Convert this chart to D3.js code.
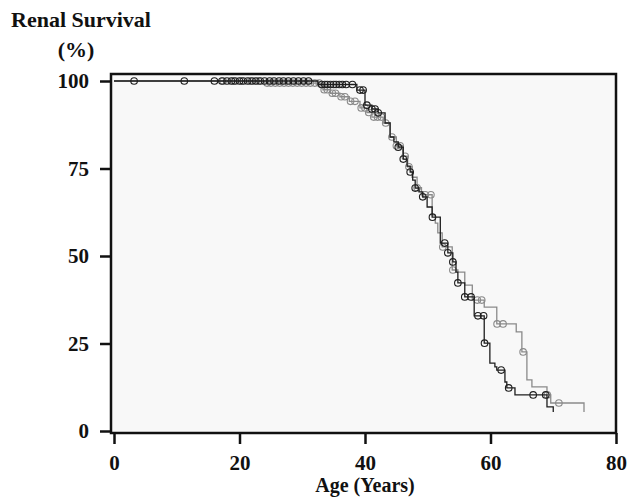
<!DOCTYPE html>
<html>
<head>
<meta charset="utf-8">
<script src="https://cdn.jsdelivr.net/npm/d3@7"></script>
<style>
  body { margin: 0; background: #fff; }
  text { font-family: "Liberation Serif", "Times New Roman", serif; font-weight: bold; fill: #111; }
</style>
</head>
<body>
<svg id="chart" width="627" height="498"></svg>
<script>
// tick labels
let xTicks = [0, 20, 40, 60, 80]
let yTicks = [0, 25, 50, 75, 100]

// black curve: [age, survival after drop]
let blackSteps = [
  [0, 100], [32.5, 99], [38.7, 97.4], [40.0, 93.1], [41.1, 92.0], [42.1, 90.9],
  [43.2, 88.0], [44.0, 84.0], [44.6, 82.6], [45.3, 81.1], [46.1, 77.7], [46.7, 75.7],
  [47.2, 74.0], [47.6, 71.7], [48.0, 69.4], [48.6, 68.3], [49.2, 66.9], [49.9, 64.0],
  [50.7, 61.1], [52.0, 53.7], [53.2, 50.9], [54.0, 48.3], [54.5, 45.4], [54.8, 42.3],
  [55.9, 38.3], [57.4, 32.9], [59.0, 25.1], [59.9, 19.4], [60.7, 18.3], [61.0, 17.4],
  [62.3, 14.0], [62.6, 12.3], [63.9, 10.3], [69.0, 6.9], [70.0, 5.4]
]
let blackCensor = [
  3.2, 11.2, 16.0, 17.2, 18.0, 18.7, 19.3, 20.0, 20.6, 21.3, 22.0, 22.6, 23.3, 24.0,
  24.8, 25.5, 26.3, 27.0, 27.8, 28.6, 29.4, 30.2, 31.0, 33.1, 33.6, 34.0, 34.5, 35.0,
  35.4, 35.9, 36.4, 37.0, 38.0, 39.2, 39.7, 40.3, 41.1, 41.6, 42.1, 45.3, 46.1, 47.2,
  48.0, 49.2, 50.75, 52.7, 53.2, 54.0, 54.8, 55.9, 56.9, 58.0, 58.9, 59.05, 61.7,
  62.9, 66.8, 68.8
]

// gray curve
let graySteps = [
  [0, 100], [24.0, 99.4], [33.3, 97.5], [34.5, 96.5], [36.0, 95.5], [37.5, 94.2],
  [39.2, 92.3], [40.3, 91.0], [41.1, 89.7], [42.9, 88.0], [44.0, 84.0], [45.0, 81.5],
  [46.0, 78.5], [46.8, 75.5], [47.5, 72.5], [48.3, 69.5], [49.0, 67.5], [50.7, 61.7],
  [51.2, 59.4], [51.6, 56.6], [52.3, 52.6], [53.9, 46.0], [54.8, 45.4], [55.9, 41.7],
  [57.1, 37.4], [59.0, 35.4], [61.0, 30.6], [64.1, 28.3], [65.0, 22.6], [65.8, 14.6],
  [66.6, 12.6], [69.0, 10.3], [69.6, 8.0], [74.9, 5.4]
]
let grayCensor = [
  17.4, 19.0, 20.3, 21.7, 23.0, 24.4, 25.0, 25.7, 26.4, 27.1, 27.8, 28.5, 29.2, 29.9,
  30.6, 31.3, 32.0, 32.7, 33.5, 34.0, 34.8, 35.3, 36.2, 36.8, 37.7, 38.4, 39.4, 40.0,
  40.6, 41.4, 42.0, 42.6, 43.3, 44.3, 45.0, 45.6, 46.4, 47.0, 48.3, 49.6, 50.5, 52.4,
  54.0, 57.9, 58.6, 61.05, 62.0, 65.2, 69.05, 70.9
]

let svg = d3.select('#chart')

let x = d3.scaleLinear().domain([0, 80]).range([114, 616])
let y = d3.scaleLinear().domain([0, 100]).range([431, 81])

// 画背景框
let frame = { left: 111, top: 74, right: 616, bottom: 433 }
svg.append('rect')
  .attr('x', frame.left).attr('y', frame.top)
  .attr('width', frame.right - frame.left).attr('height', frame.bottom - frame.top)
  .attr('fill', '#f8f8f8')

// step lookup for censor marks
var survAt = function (steps, t) {
  let s = steps[0][1]
  for (let i = 0; i < steps.length; i++) {
    if (steps[i][0] <= t) s = steps[i][1]
  }
  return s
}

let line = d3.line()
  .x(d => x(d[0]))
  .y(d => y(d[1]))
  .curve(d3.curveStepAfter)

var drawCurve = function (steps, censor, color) {
  let g = svg.append('g')
  g.append('path')
    .attr('d', line(steps))
    .attr('fill', 'none')
    .attr('stroke', color)
    .attr('stroke-width', 1.3)
  g.selectAll('circle')
    .data(censor)
    .enter()
    .append('circle')
    .attr('cx', d => x(d))
    .attr('cy', d => y(survAt(steps, d)))
    .attr('r', 3.3)
    .attr('fill', 'none')
    .attr('stroke', color)
    .attr('stroke-width', 1.1)
}

drawCurve(graySteps, grayCensor, '#8a8a8a')
drawCurve(blackSteps, blackCensor, '#1e1e1e')

// 边框
svg.append('rect')
  .attr('x', frame.left).attr('y', frame.top)
  .attr('width', frame.right - frame.left).attr('height', frame.bottom - frame.top)
  .attr('fill', 'none')
  .attr('stroke', '#111')
  .attr('stroke-width', 2.5)

// 坐标轴
let yAxis = svg.append('g')
  .attr('transform', `translate(${frame.left},0)`)
  .call(d3.axisLeft(y).tickValues(yTicks).tickSize(11).tickPadding(11))
let xAxis = svg.append('g')
  .attr('transform', `translate(0,${frame.bottom})`)
  .call(d3.axisBottom(x).tickValues(xTicks).tickSize(11).tickPadding(11))

svg.selectAll('.domain').remove()
svg.selectAll('.tick line').attr('stroke', '#111').attr('stroke-width', 2.5)
svg.selectAll('.tick text').style('font-size', '21px').style('font-family', '"Liberation Serif", serif')
  .style('font-weight', 'bold').attr('fill', '#111')

// 标题
svg.append('text')
  .attr('x', 11).attr('y', 27)
  .style('font-size', '22px')
  .text('Renal Survival')
svg.append('text')
  .attr('x', 76).attr('y', 57)
  .attr('text-anchor', 'middle')
  .style('font-size', '22px')
  .text('(%)')
svg.append('text')
  .attr('x', 365).attr('y', 492)
  .attr('text-anchor', 'middle')
  .style('font-size', '20px')
  .text('Age (Years)')
</script>
</body>
</html>
